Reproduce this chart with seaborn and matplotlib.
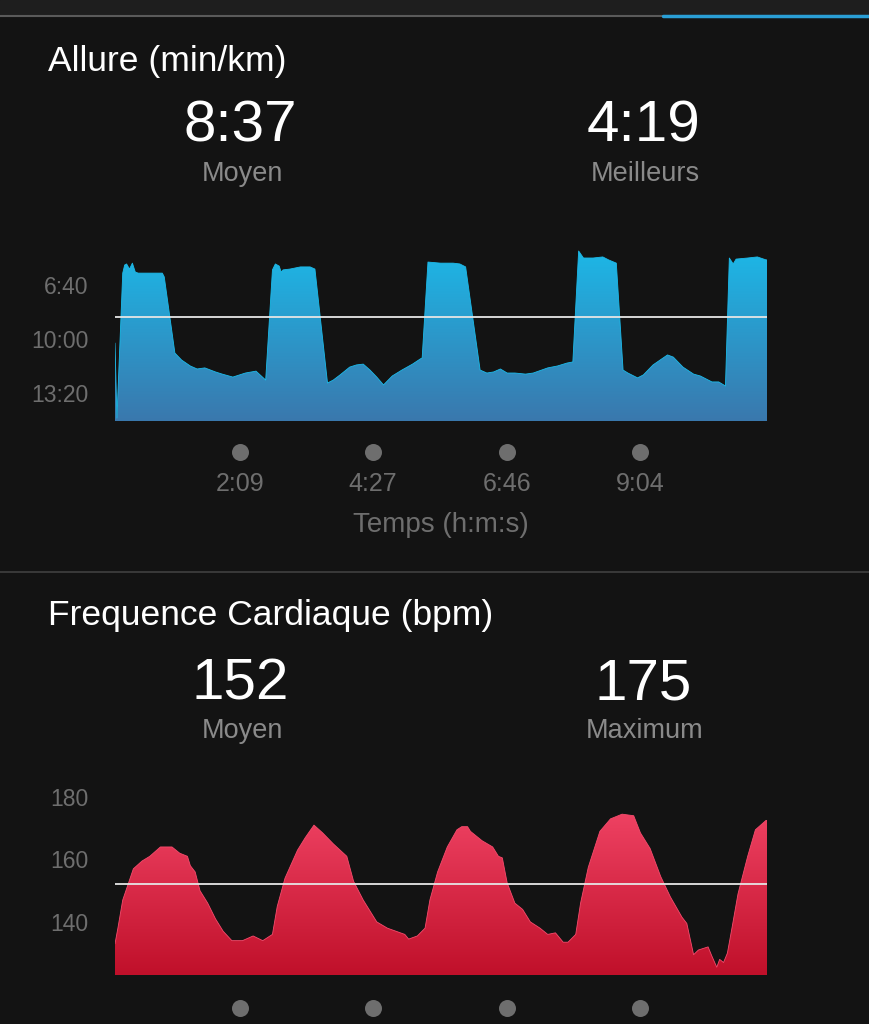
import numpy as np
import pandas as pd
import matplotlib
matplotlib.use('Agg')
import matplotlib.pyplot as plt
import seaborn as sns
from matplotlib.colors import LinearSegmentedColormap
from matplotlib.lines import Line2D

# pace profile: time (s) / pace (s per km)
pace_t = [0, 2, 8, 10, 12, 15, 18, 21, 24, 49, 51, 62, 69, 78, 85, 93, 104, 111, 122, 135,
          146, 156, 163, 166, 170, 172, 174, 181, 192, 202, 207, 220, 226, 233, 243, 250,
          257, 264, 271, 278, 287, 297, 308, 316, 318, 324, 337, 350, 357, 363, 378, 385,
          392, 399, 406, 414, 425, 433, 448, 458, 468, 474, 480, 485, 495, 505, 511, 519,
          526, 531, 541, 547, 557, 572, 578, 588, 599, 606, 618, 625, 632, 636, 640, 643,
          655, 665, 674, 675]
pace_s = [615, 893, 356, 326, 322, 341, 319, 352, 356, 356, 370, 652, 678, 700, 711, 707, 722,
          730, 741, 726, 719, 752, 344, 322, 330, 352, 344, 341, 333, 333, 341, 763, 752, 733,
          704, 696, 693, 715, 741, 770, 737, 715, 693, 674, 670, 315, 319, 319, 322, 333, 715,
          726, 722, 711, 726, 726, 730, 726, 707, 700, 689, 685, 274, 300, 300, 296, 307, 319,
          715, 726, 744, 733, 696, 659, 667, 704, 730, 737, 759, 759, 774, 300, 322, 304, 300,
          296, 307, 307]

# heart rate profile: time (s) / bpm
hr_t = [0, 3, 8, 19, 28, 36, 47, 59, 67, 75, 78, 83, 88, 96, 104, 112, 121, 132, 143, 153,
        163, 168, 176, 189, 197, 206, 215, 226, 240, 247, 257, 271, 282, 300, 304, 313, 321,
        326, 334, 344, 354, 359, 365, 368, 380, 391, 397, 401, 406, 414, 422, 430, 440, 448,
        456, 464, 469, 477, 482, 490, 502, 513, 525, 537, 544, 554, 565, 575, 587, 592, 599,
        604, 614, 618, 623, 626, 630, 634, 639, 645, 655, 663, 674, 675]
hr_bpm = [133, 138, 147, 157, 159.5, 161, 164, 164, 162, 161, 158, 156, 150, 146, 141, 137,
          134, 134, 135.5, 134, 136, 145, 154, 163, 167, 171, 168.5, 165, 161, 153, 147, 140,
          138, 136, 134.5, 135.5, 138, 147, 156, 164, 169.5, 170.5, 170.5, 169, 166, 164, 161,
          160.5, 152.5, 146, 144, 140, 138, 136, 136.5, 133.5, 133.5, 136, 146, 157.5, 169,
          173, 174.5, 174, 168.5, 163.5, 154.5, 148, 141.5, 139.5, 129.5, 131, 132, 129, 125.5,
          128, 127, 130, 138.5, 149, 161, 169.5, 172.5, 172.5]

pace_avg, pace_best = 517, 259  # 8:37 / 4:19
hr_avg, hr_max = 152, 175

x_ticks = [129, 267, 406, 544]
x_labels = ['2:09', '4:27', '6:46', '9:04']
pace_ticks = [400, 600, 800]
pace_labels = ['6:40', '10:00', '13:20']
hr_ticks = [140, 160, 180]

bg = '#131313'
sns.set_style('dark', {'axes.facecolor': bg, 'figure.facecolor': bg})
plt.rcParams['font.family'] = ['Liberation Sans', 'DejaVu Sans']

W, H = 869, 1024
fig = plt.figure(figsize=(W / 100, H / 100), dpi=100, facecolor=bg)


def fx(px):
    return px / W


def fy(py):
    return 1 - py / H


def gradient_area(ax, df, col, base, lims, c_top, c_bot):
    poly = ax.fill_between(df['t'], df[col], base, color='none', lw=0)
    cmap = LinearSegmentedColormap.from_list('g', [c_bot, c_top])
    grad = np.linspace(0, 1, 256).reshape(-1, 1)
    im = ax.imshow(grad, cmap=cmap, aspect='auto', origin='lower',
                   extent=[0, 675, lims[0], lims[1]], zorder=1)
    im.set_clip_path(poly.get_paths()[0], transform=ax.transData)
    sns.lineplot(data=df, x='t', y=col, ax=ax, color=c_top, lw=0.6, zorder=2,
                 estimator=None, sort=False)


def style_axes(ax, yticks, ylabels, xlabels):
    ax.set_xlim(0, 675)
    for s in ax.spines.values():
        s.set_visible(False)
    ax.set_yticks(yticks, ylabels)
    ax.set_xticks(x_ticks, xlabels)
    ax.tick_params(axis='y', length=0, pad=19, labelsize=16.5, labelcolor='#6e6e6e')
    ax.tick_params(axis='x', length=0, pad=37, labelsize=18, labelcolor='#6e6e6e')
    ax.grid(False)
    ax.scatter(x_ticks, [-0.171] * len(x_ticks), s=150, color='#6e6e6e',
               transform=ax.get_xaxis_transform(), clip_on=False, lw=0)


# pace chart
pace_df = pd.DataFrame({'t': pace_t, 'pace': pace_s})
ax1 = fig.add_axes([fx(115), fy(421), fx(767 - 115), (421 - 240) / H])
lim1 = (903.7, 233.3)
gradient_area(ax1, pace_df, 'pace', lim1[0], lim1, '#1bbbea', '#3a78ad')
ax1.axhline(pace_avg, color='#e6e6e6', lw=1.3, zorder=3)
ax1.set_ylim(*lim1)
style_axes(ax1, pace_ticks, pace_labels, x_labels)
ax1.set_xlabel('Temps (h:m:s)', fontsize=20, color='#6e6e6e', labelpad=11)
ax1.set_ylabel('')

# heart rate chart (its time labels fall below the visible area)
hr_df = pd.DataFrame({'t': hr_t, 'bpm': hr_bpm})
ax2 = fig.add_axes([fx(115), fy(975), fx(767 - 115), (975 - 782) / H])
lim2 = (123.0, 184.8)
gradient_area(ax2, hr_df, 'bpm', lim2[0], lim2, '#f74b6d', '#c0102a')
ax2.axhline(hr_avg, color='#e6e6e6', lw=1.3, zorder=3)
ax2.set_ylim(*lim2)
style_axes(ax2, hr_ticks, [str(v) for v in hr_ticks], [''] * len(x_ticks))
ax2.set_xlabel('')
ax2.set_ylabel('')


def mmss(v):
    return f'{v // 60}:{v % 60:02d}'


# headers and summary numbers
fig.text(fx(48), fy(61), 'Allure (min/km)', fontsize=25.5, color='white', va='center')
fig.text(fx(48), fy(615), 'Frequence Cardiaque (bpm)', fontsize=25.5, color='white', va='center')
for (x, y, big, small) in [(240, 127, mmss(pace_avg), 'Moyen'),
                           (643, 127, mmss(pace_best), 'Meilleurs'),
                           (240, 684, str(hr_avg), 'Moyen'),
                           (643, 684, str(hr_max), 'Maximum')]:
    fig.text(fx(x), fy(y), big, fontsize=42, color='white', ha='center', va='center')
    fig.text(fx(x + 2), fy(y + 47), small, fontsize=19.5, color='#8a8a8a', ha='center', va='center')

# top tab bar and separator
fig.patches.append(plt.Rectangle((0, fy(14)), 1, 14 / H, transform=fig.transFigure,
                                 color='#1e1e1e', zorder=0))
fig.add_artist(Line2D([0, fx(663)], [fy(15.5)] * 2, color='#5a5a5a', lw=1.5))
fig.add_artist(Line2D([fx(663), 1], [fy(15.5)] * 2, color='#2a9fd6', lw=2.5))
fig.add_artist(Line2D([0, 1], [fy(572)] * 2, color='#3c3c3c', lw=1.3))

fig.savefig('out.png', dpi=100, facecolor=bg)
